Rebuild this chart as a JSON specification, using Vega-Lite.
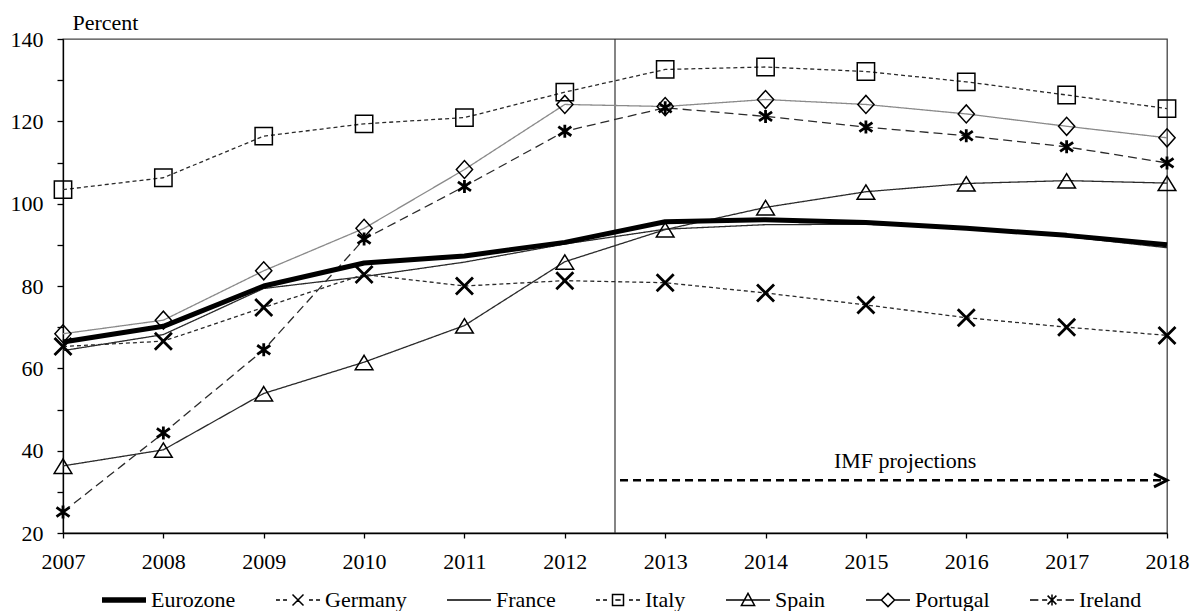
{
  "$schema": "https://vega.github.io/schema/vega-lite/v6.json",
  "width": 1104,
  "height": 494,
  "autosize": "none",
  "padding": {"left": 63, "top": 39, "right": 32, "bottom": 78},
  "background": "white",
  "config": {
    "font": "Liberation Serif",
    "view": {"stroke": "#444", "strokeWidth": 1.3},
    "axis": {"labelFont": "Liberation Serif", "labelFontSize": 22, "labelColor": "black", "domainColor": "black", "domainWidth": 1.3, "tickColor": "black", "tickWidth": 1.3, "grid": false}
  },
  "resolve": {"scale": {"shape": "independent", "size": "independent"}},
  "datasets": {
    "debt": [
      {"series": "Eurozone", "year": 2007, "value": 66.4},
      {"series": "Eurozone", "year": 2008, "value": 70.2},
      {"series": "Eurozone", "year": 2009, "value": 80.0},
      {"series": "Eurozone", "year": 2010, "value": 85.6},
      {"series": "Eurozone", "year": 2011, "value": 87.3},
      {"series": "Eurozone", "year": 2012, "value": 90.6},
      {"series": "Eurozone", "year": 2013, "value": 95.6},
      {"series": "Eurozone", "year": 2014, "value": 96.1},
      {"series": "Eurozone", "year": 2015, "value": 95.4},
      {"series": "Eurozone", "year": 2016, "value": 94.0},
      {"series": "Eurozone", "year": 2017, "value": 92.3},
      {"series": "Eurozone", "year": 2018, "value": 90.0},
      {"series": "Germany", "year": 2007, "value": 65.3},
      {"series": "Germany", "year": 2008, "value": 66.6},
      {"series": "Germany", "year": 2009, "value": 74.8},
      {"series": "Germany", "year": 2010, "value": 82.8},
      {"series": "Germany", "year": 2011, "value": 80.0},
      {"series": "Germany", "year": 2012, "value": 81.3},
      {"series": "Germany", "year": 2013, "value": 80.8},
      {"series": "Germany", "year": 2014, "value": 78.3},
      {"series": "Germany", "year": 2015, "value": 75.4},
      {"series": "Germany", "year": 2016, "value": 72.3},
      {"series": "Germany", "year": 2017, "value": 70.0},
      {"series": "Germany", "year": 2018, "value": 68.0},
      {"series": "France", "year": 2007, "value": 64.3},
      {"series": "France", "year": 2008, "value": 68.2},
      {"series": "France", "year": 2009, "value": 79.4},
      {"series": "France", "year": 2010, "value": 82.3},
      {"series": "France", "year": 2011, "value": 85.8},
      {"series": "France", "year": 2012, "value": 90.2},
      {"series": "France", "year": 2013, "value": 93.8},
      {"series": "France", "year": 2014, "value": 94.9},
      {"series": "France", "year": 2015, "value": 95.0},
      {"series": "France", "year": 2016, "value": 94.2},
      {"series": "France", "year": 2017, "value": 92.0},
      {"series": "France", "year": 2018, "value": 89.3},
      {"series": "Italy", "year": 2007, "value": 103.4},
      {"series": "Italy", "year": 2008, "value": 106.3},
      {"series": "Italy", "year": 2009, "value": 116.4},
      {"series": "Italy", "year": 2010, "value": 119.4},
      {"series": "Italy", "year": 2011, "value": 120.9},
      {"series": "Italy", "year": 2012, "value": 127.1},
      {"series": "Italy", "year": 2013, "value": 132.6},
      {"series": "Italy", "year": 2014, "value": 133.2},
      {"series": "Italy", "year": 2015, "value": 132.1},
      {"series": "Italy", "year": 2016, "value": 129.6},
      {"series": "Italy", "year": 2017, "value": 126.4},
      {"series": "Italy", "year": 2018, "value": 123.1},
      {"series": "Spain", "year": 2007, "value": 36.3},
      {"series": "Spain", "year": 2008, "value": 40.2},
      {"series": "Spain", "year": 2009, "value": 53.9},
      {"series": "Spain", "year": 2010, "value": 61.5},
      {"series": "Spain", "year": 2011, "value": 70.4},
      {"series": "Spain", "year": 2012, "value": 85.9},
      {"series": "Spain", "year": 2013, "value": 93.7},
      {"series": "Spain", "year": 2014, "value": 99.1},
      {"series": "Spain", "year": 2015, "value": 102.9},
      {"series": "Spain", "year": 2016, "value": 104.9},
      {"series": "Spain", "year": 2017, "value": 105.6},
      {"series": "Spain", "year": 2018, "value": 105.0},
      {"series": "Portugal", "year": 2007, "value": 68.4},
      {"series": "Portugal", "year": 2008, "value": 71.7},
      {"series": "Portugal", "year": 2009, "value": 83.7},
      {"series": "Portugal", "year": 2010, "value": 94.0},
      {"series": "Portugal", "year": 2011, "value": 108.3},
      {"series": "Portugal", "year": 2012, "value": 124.1},
      {"series": "Portugal", "year": 2013, "value": 123.6},
      {"series": "Portugal", "year": 2014, "value": 125.3},
      {"series": "Portugal", "year": 2015, "value": 124.1},
      {"series": "Portugal", "year": 2016, "value": 121.8},
      {"series": "Portugal", "year": 2017, "value": 118.8},
      {"series": "Portugal", "year": 2018, "value": 116.0},
      {"series": "Ireland", "year": 2007, "value": 25.1},
      {"series": "Ireland", "year": 2008, "value": 44.3},
      {"series": "Ireland", "year": 2009, "value": 64.5},
      {"series": "Ireland", "year": 2010, "value": 91.4},
      {"series": "Ireland", "year": 2011, "value": 104.2},
      {"series": "Ireland", "year": 2012, "value": 117.6},
      {"series": "Ireland", "year": 2013, "value": 123.3},
      {"series": "Ireland", "year": 2014, "value": 121.2},
      {"series": "Ireland", "year": 2015, "value": 118.6},
      {"series": "Ireland", "year": 2016, "value": 116.5},
      {"series": "Ireland", "year": 2017, "value": 113.8},
      {"series": "Ireland", "year": 2018, "value": 109.9}
    ]
  },
  "layer": [
    {
      "data": {"values": [{"x": 2012.5}]},
      "mark": {"type": "rule", "color": "#333", "strokeWidth": 1.2},
      "encoding": {"x": {"field": "x", "type": "quantitative"}}
    },
    {
      "data": {"name": "debt"},
      "transform": [{"filter": "datum.series !== 'Eurozone'"}],
      "mark": {"type": "line", "strokeCap": "butt", "strokeJoin": "round", "strokeWidth": 1.3},
      "encoding": {
        "x": {"field": "year", "type": "quantitative", "scale": {"domain": [2007, 2018], "nice": false, "zero": false},
              "axis": {"title": null, "values": [2007,2008,2009,2010,2011,2012,2013,2014,2015,2016,2017,2018], "format": "d", "tickSize": 5, "labelPadding": 13, "labelOverlap": false, "labelFlush": false}},
        "y": {"field": "value", "type": "quantitative", "scale": {"domain": [20, 140], "nice": false, "zero": false},
              "axis": {"title": "Percent", "titleAngle": 0, "titleAlign": "left", "titleBaseline": "alphabetic", "titleX": 9, "titleY": -10,
                       "titleFont": "Liberation Serif", "titleFontSize": 22, "titleFontWeight": "normal", "titleColor": "black",
                       "values": [20,25,30,35,40,45,50,55,60,65,70,75,80,85,90,95,100,105,110,115,120,125,130,135,140],
                       "labelExpr": "datum.value % 20 === 0 ? datum.label : ''", "labelOverlap": false, "labelFlush": false,
                       "tickSize": 6, "labelPadding": 14,
                       "encode": {"ticks": {"update": {"x": {"signal": "datum.value % 20 === 0 ? 8 : 0"}, "x2": {"signal": "datum.value % 20 === 0 ? -6 : -5"}}}}}},
        "detail": {"field": "series", "type": "nominal"},
        "color": {"condition": {"test": "datum.series === 'Portugal'", "value": "#8a8a8a"}, "value": "#2a2a2a"},
        "strokeDash": {"field": "series", "type": "nominal", "legend": null,
                  "scale": {"domain": ["Eurozone","Germany","France","Italy","Spain","Portugal","Ireland"], "range": [[1,0],[4,3],[1,0],[4,3],[1,0],[1,0],[9,5]]}}
      }
    },
    {
      "data": {"name": "debt"},
      "transform": [{"filter": "datum.series === 'Eurozone'"}],
      "mark": {"type": "line", "color": "black", "strokeWidth": 5, "strokeCap": "butt", "strokeJoin": "round"},
      "encoding": {
        "x": {"field": "year", "type": "quantitative"},
        "y": {"field": "value", "type": "quantitative"}
      }
    },
    {
      "data": {"name": "debt"},
      "transform": [{"filter": "datum.series === 'Italy' || datum.series === 'Spain' || datum.series === 'Portugal'"}],
      "mark": {"type": "point", "filled": false, "stroke": "black", "strokeWidth": 1.5, "opacity": 1},
      "encoding": {
        "x": {"field": "year", "type": "quantitative"},
        "y": {"field": "value", "type": "quantitative"},
        "shape": {"field": "series", "type": "nominal", "legend": null,
                  "scale": {"domain": ["Italy","Spain","Portugal"],
                            "range": ["M-1,-1H1V1H-1Z", "M0,-0.78L1,0.85H-1Z", "M-0.9,0L0,-1L0.9,0L0,1Z"]}},
        "size": {"field": "series", "type": "nominal", "legend": null,
                 "scale": {"domain": ["Italy","Spain","Portugal"], "range": [300, 324, 289]}}
      }
    },
    {
      "data": {"name": "debt"},
      "transform": [{"filter": "datum.series === 'Germany' || datum.series === 'Ireland'"}],
      "mark": {"type": "point", "filled": false, "stroke": "black", "strokeWidth": 2.8, "opacity": 1},
      "encoding": {
        "x": {"field": "year", "type": "quantitative"},
        "y": {"field": "value", "type": "quantitative"},
        "shape": {"field": "series", "type": "nominal", "legend": null,
                  "scale": {"domain": ["Germany","Ireland"],
                            "range": ["M-1,-1L1,1M-1,1L1,-1", "M-1,-0.7L1,0.7M-1,0.7L1,-0.7M0,-1V1"]}},
        "size": {"field": "series", "type": "nominal", "legend": null,
                 "scale": {"domain": ["Germany","Ireland"], "range": [289, 169]}}
      }
    },
    {
      "data": {"values": [{"x0": 2012.55, "x1": 2017.97, "y": 32.8}]},
      "mark": {"type": "rule", "color": "black", "strokeWidth": 2.5, "strokeDash": [8, 5]},
      "encoding": {
        "x": {"field": "x0", "type": "quantitative"},
        "x2": {"field": "x1"},
        "y": {"field": "y", "type": "quantitative"}
      }
    },
    {
      "data": {"values": [{"x": 2018, "y": 32.8}]},
      "mark": {"type": "point", "shape": "M-1,-0.5L0,0L-1,0.5", "size": 676, "filled": false, "stroke": "black", "strokeWidth": 3, "opacity": 1},
      "encoding": {
        "x": {"field": "x", "type": "quantitative"},
        "y": {"field": "y", "type": "quantitative"}
      }
    },
    {
      "data": {"values": [{"x": 2016.1, "y": 35.8, "label": "IMF projections"}]},
      "mark": {"type": "text", "align": "right", "baseline": "alphabetic", "font": "Liberation Serif", "fontSize": 22, "color": "black"},
      "encoding": {
        "x": {"field": "x", "type": "quantitative"},
        "y": {"field": "y", "type": "quantitative"},
        "text": {"field": "label"}
      }
    },
    {
      "data": {"name": "debt"},
      "mark": {"type": "point", "opacity": 0, "filled": false, "color": "black"},
      "encoding": {
        "x": {"field": "year", "type": "quantitative"},
        "y": {"field": "value", "type": "quantitative"},
        "shape": {"field": "series", "type": "nominal",
                  "scale": {"domain": ["Eurozone","Germany","France","Italy","Spain","Portugal","Ireland"],
                            "range": [
                              "M-1,-0.09H1M-1,-0.045H1M-1,0H1M-1,0.045H1M-1,0.09H1",
                              "M-1,0H-0.82M-0.68,0H-0.5M-0.25,-0.25L0.25,0.25M-0.25,0.25L0.25,-0.25M0.5,0H0.68M0.82,0H1",
                              "M-1,0H1",
                              "M-1,0H-0.82M-0.68,0H-0.5M-0.25,-0.25H0.25V0.25H-0.25ZM-0.12,0H0.12M0.5,0H0.68M0.82,0H1",
                              "M-1,0H1M0,-0.3L0.3,0.25H-0.3Z",
                              "M-1,0H-0.3M0.3,0H1M-0.3,0L0,-0.3L0.3,0L0,0.3Z",
                              "M-1,0H-0.62M-0.45,0H-0.22M-0.2,-0.2L0.2,0.2M-0.2,0.2L0.2,-0.2M0,-0.25V0.25M0.22,0H0.45M0.62,0H1"
                            ]},
                  "legend": {"title": null, "orient": "none", "legendX": 38, "legendY": 538, "direction": "horizontal", "columns": 7,
                             "symbolSize": 1936, "symbolStrokeWidth": 1.5, "symbolStrokeColor": "black", "symbolOpacity": 1,
                             "labelFont": "Liberation Serif", "labelFontSize": 22, "labelColor": "black",
                             "labelOffset": 4, "columnPadding": 37, "padding": 0, "labelLimit": 300,
                             "encode": {"symbols": {
                               "stroke": {"value": "black"},
                               "opacity": {"value": 1}
                             }}}}
      }
    }
  ]
}
